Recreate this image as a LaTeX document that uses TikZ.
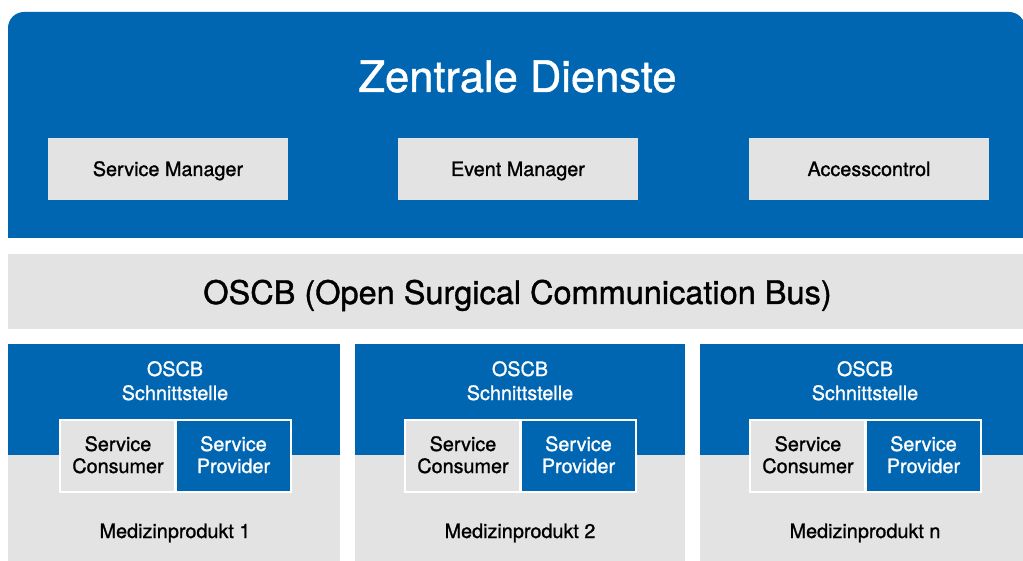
\documentclass[tikz,border=0pt]{standalone}
\usepackage{fontspec}
\setmainfont{TeX Gyre Heros}
\newfontface\medfont{TeX Gyre Heros}[FakeBold=1.1]
\definecolor{oblue}{RGB}{0,102,178}
\definecolor{ogray}{RGB}{226,227,226}
\tikzset{
  titletext/.style={font=\medfont\fontsize{43.5}{50}\selectfont, text=white, inner sep=0pt, anchor=base},
  bustext/.style={font=\medfont\fontsize{32.5}{38}\selectfont, text=black, inner sep=0pt, anchor=base},
  svcbox/.style={fill=ogray, draw=none, minimum width=240pt, minimum height=62pt, anchor=north west, inner sep=0pt},
  svctext/.style={font=\medfont\fontsize{19.8}{24}\selectfont, text=black, inner sep=0pt, anchor=base},
  smalltext/.style={font=\medfont\fontsize{19.8}{24}\selectfont, inner sep=0pt, anchor=base},
  blockbox/.style={draw=none, inner sep=0pt, anchor=north west, minimum width=330pt},
  framebox/.style={fill=white, draw=none, inner sep=0pt, anchor=north west, minimum width=233pt, minimum height=74pt},
  innerbox/.style={draw=none, inner sep=0pt, anchor=north west, minimum width=113pt, minimum height=70pt},
}
\begin{document}
\begin{tikzpicture}[x=1pt,y=-1pt]
\useasboundingbox[fill=white] (0,0) rectangle (1023,561);
\begin{scope}
\clip (0,0) rectangle (1023,561);
% top area
\fill[oblue] (8,238) [rounded corners=16pt] -- (8,12) -- (1025,12) [sharp corners] -- (1025,238) -- cycle;
\node[titletext] (title) at (517.5,92) {Zentrale Dienste};
\node[svcbox] (sm) at (48,138) {};
\node[svctext] (smt) at (168,176) {Service Manager};
\node[svcbox] (em) at (398,138) {};
\node[svctext] (emt) at (518,176) {Event Manager};
\node[svcbox] (ac) at (749,138) {};
\node[svctext] (act) at (869,176) {Accesscontrol};
% bus
\node[blockbox, fill=ogray, minimum width=1020pt, minimum height=75pt] (bus) at (8,254) {};
\node[bustext] (bust) at (517.5,304) {OSCB (Open Surgical Communication Bus)};
% device blocks
\foreach \i/\bx/\bw/\fx/\lbl in {1/8/332/59/1, 2/355/330/404/2, 3/700/330/749/n}{
  \node[blockbox, fill=ogray, minimum width=\bw pt, minimum height=217pt] (dev\i) at (\bx,344) {};
  \node[blockbox, fill=oblue, minimum width=\bw pt, minimum height=111pt] (if\i) at (\bx,344) {};
  \node[smalltext, text=white, align=center] (ift\i) at (\fx+116,400) {OSCB\\Schnittstelle};
  \node[framebox] (fr\i) at (\fx,419) {};
  \node[innerbox, fill=ogray] (sc\i) at (\fx+2,421) {};
  \node[innerbox, fill=oblue] (sp\i) at (\fx+118,421) {};
  \node[smalltext, text=black, align=center] (sct\i) at (\fx+59,473) {Service\\[-2pt]Consumer};
  \node[smalltext, text=white, align=center] (spt\i) at (\fx+174.5,473) {Service\\[-2pt]Provider};
  \node[smalltext, text=black] (mp\i) at (\fx+116,538) {Medizinprodukt \lbl};
}
\end{scope}
\end{tikzpicture}
\end{document}
